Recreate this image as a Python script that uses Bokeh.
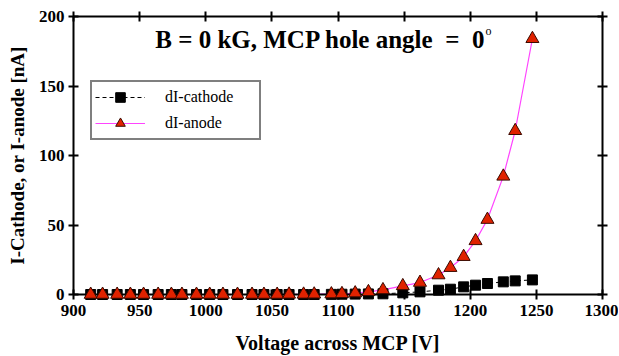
from bokeh.plotting import figure
from bokeh.models import (ColumnDataSource, LinearAxis, Range1d, Label, Legend, LegendItem,
                          FixedTicker, CustomJSTickFormatter)
from bokeh.embed import file_html
from bokeh.resources import INLINE

voltage = [913, 922, 933, 943, 953, 964, 974, 982, 993, 1003, 1013, 1024, 1035, 1044,
           1054, 1063, 1074, 1082, 1095, 1103, 1113, 1123, 1134, 1149, 1162, 1176,
           1185, 1195, 1204, 1213, 1225, 1234, 1247]
i_cathode = [0, 0, 0, 0, 0, 0, 0, 0, 0, 0, 0, 0, 0, 0, 0, 0, 0, 0, 0.1, 0.2, 0.3, 0.4,
             0.5, 1.2, 1.9, 3.1, 3.8, 5.5, 6.7, 7.9, 9.1, 9.8, 10.5]
i_anode = [0, 0, 0, 0, 0, 0, 0, 0, 0, 0, 0, 0, 0, 0, 0, 0.1, 0.1, 0.2, 0.3, 0.5, 1.0,
           1.9, 3.3, 6.2, 8.6, 14.0, 19.3, 27.2, 38.6, 53.9, 85.0, 117.8, 184.0]
x_ticks = [900, 950, 1000, 1050, 1100, 1150, 1200, 1250, 1300]
y_ticks = [0, 50, 100, 150, 200]

FONT = "Liberation Serif"
NB = "\u00a0"

src = ColumnDataSource(dict(v=voltage, c=i_cathode, a=i_anode))

p = figure(frame_width=529, frame_height=278, output_backend="svg", toolbar_location=None,
           x_range=Range1d(900, 1300), y_range=Range1d(0, 200),
           min_border_left=73, min_border_right=16, min_border_top=16, min_border_bottom=4)
p.grid.visible = False
p.outline_line_color = None
p.background_fill_color = "white"
p.border_fill_color = "white"

for ax in [p.xaxis[0], p.yaxis[0]]:
    ax.axis_line_width = 2
    ax.major_tick_line_width = 2
    ax.major_tick_in = 5
    ax.major_tick_out = 5
    ax.minor_tick_line_color = None
    ax.major_label_text_font = FONT
    ax.major_label_text_font_style = "bold"
    ax.major_label_text_font_size = "17px"
    ax.major_label_text_color = "black"
    ax.axis_label_text_font = FONT
    ax.axis_label_text_font_style = "bold"
    ax.axis_label_text_color = "black"

p.xaxis[0].axis_label_text_font_size = "20px"
p.yaxis[0].axis_label_text_font_size = "19px"
p.xaxis[0].ticker = FixedTicker(ticks=x_ticks)
p.yaxis[0].ticker = FixedTicker(ticks=y_ticks)
p.xaxis[0].axis_label = "Voltage across MCP [V]"
p.yaxis[0].axis_label = "I-Cathode, or I-anode [nA]"
p.xaxis[0].major_label_standoff = 5
p.yaxis[0].major_label_standoff = 4
p.xaxis[0].axis_label_standoff = 13
p.yaxis[0].axis_label_standoff = 8

blank = CustomJSTickFormatter(code="return ''")
top = LinearAxis(ticker=FixedTicker(ticks=x_ticks), formatter=blank,
                 axis_line_width=2, major_tick_line_width=2, major_tick_in=5, major_tick_out=5,
                 minor_tick_line_color=None, major_label_standoff=0)
right = LinearAxis(ticker=FixedTicker(ticks=y_ticks), formatter=blank,
                   axis_line_width=2, major_tick_line_width=2, major_tick_in=5, major_tick_out=5,
                   minor_tick_line_color=None, major_label_standoff=0)
p.add_layout(top, "above")
p.add_layout(right, "right")

l1 = p.line("v", "c", source=src, line_color="black", line_width=1, line_dash="4 3")
m1 = p.scatter("v", "c", source=src, marker="square", size=10, fill_color="black",
               line_color="black", level="overlay")
l2 = p.line("v", "a", source=src, line_color="#ff44ff", line_width=1.2)
m2 = p.scatter("v", "a", source=src, marker="triangle", size=13, fill_color="#e02200",
               line_color="#3a0a00", line_width=1, level="overlay")

legend = Legend(items=[LegendItem(label="dI-cathode", renderers=[l1, m1]),
                       LegendItem(label="dI-anode", renderers=[l2, m2])],
                location=(17, 154))
legend.label_text_font = FONT
legend.label_text_font_size = "16px"
legend.label_text_color = "black"
legend.border_line_color = "black"
legend.border_line_width = 2
legend.margin = 0
legend.padding = 3
legend.spacing = 2
legend.glyph_width = 50
legend.glyph_height = 24
legend.label_height = 24
legend.label_width = 91
legend.label_standoff = 20
p.add_layout(legend, "center")

title = Label(x=247, y=242, x_units="screen", y_units="screen",
              text="B = 0 kG, MCP hole angle" + NB + " = " + NB + "0",
              text_font=FONT, text_color="black",
              text_font_style="bold", text_font_size="25px", text_align="center")
deg = Label(x=412, y=257, x_units="screen", y_units="screen", text="o",
            text_font=FONT, text_color="black", text_font_size="12px")
p.add_layout(title)
p.add_layout(deg)

open("out.html", "w").write(file_html(p, INLINE))
